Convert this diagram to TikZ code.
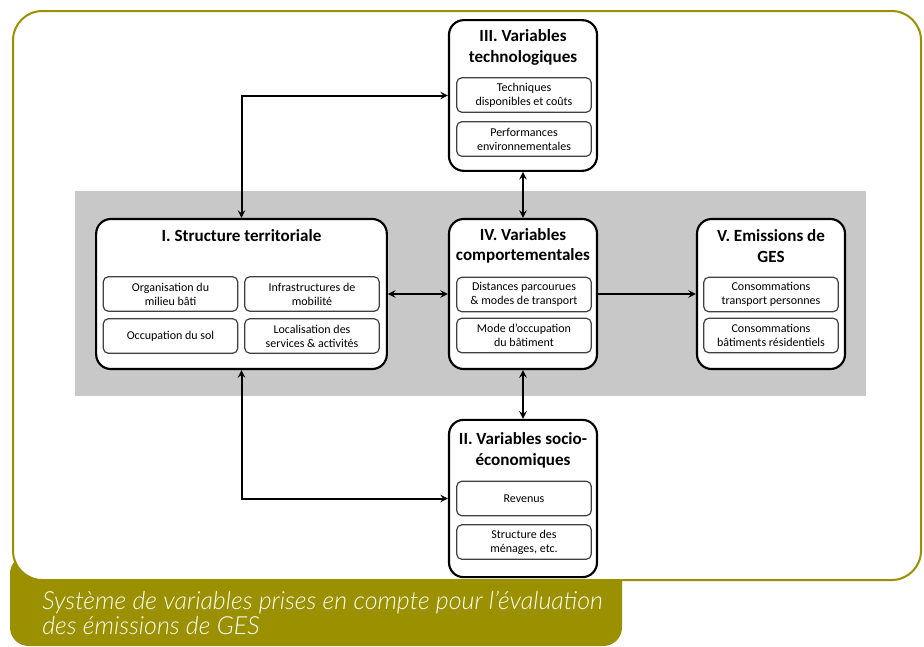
\documentclass[tikz,border=0pt]{standalone}
\usepackage{fontspec}
\setmainfont{Carlito}
\newfontfamily\capfont{Lato}[UprightFont=* Light, ItalicFont=* Light Italic]
\usetikzlibrary{positioning}
\definecolor{framecol}{RGB}{155,145,0}
\definecolor{bandgray}{RGB}{200,200,200}

\begin{document}
\begin{tikzpicture}[
x=0.75pt, y=-0.75pt,
group/.style={rectangle, rounded corners=11pt, draw=black, line width=1.6pt, fill=white},
title/.style={font=\bfseries\fontsize{12.8}{15.5}\selectfont, align=center, inner sep=0pt},
item/.style={rectangle, rounded corners=4pt, draw=black!75, line width=0.9pt, fill=white, minimum width=101pt, minimum height=26pt, align=center, inner sep=1pt, font=\fontsize{9}{10.6}\selectfont},
link/.style={stealth-stealth, line width=1.5pt}]

\useasboundingbox (0,0) rectangle (924,646);

% frame and caption band
\fill[framecol, rounded corners=14pt] (10,555) rectangle (622,646);
\draw[framecol, fill=white, line width=1.5pt, rounded corners=22pt] (13,11) rectangle (921,580);
\node[anchor=north west, text=white, align=left, inner sep=0pt, font=\capfont\itshape\fontsize{18.7}{19}\selectfont] (caption) at (42,591) {Système de variables prises en compte pour l’évaluation\\des émissions de GES};

% grey band
\fill[bandgray] (75,191) rectangle (866,396);

% boxes
\node[group, minimum width=111pt, minimum height=113pt] (techno) at (523,95.5) {};
\node[group, minimum width=218pt, minimum height=112.5pt] (struct) at (241.5,294) {};
\node[group, minimum width=111pt, minimum height=112.5pt] (compo) at (523,294) {};
\node[group, minimum width=111pt, minimum height=112.5pt] (emis) at (771,294) {};
\node[group, minimum width=111pt, minimum height=118pt] (socio) at (523,498.5) {};

% titles
\node[title] (technoT) at (523,47.5) {III. Variables\\technologiques};
\node[title] (structT) at (241.5,236) {I. Structure territoriale};
\node[title] (compoT) at (523,246) {IV. Variables\\comportementales};
\node[title] (emisT) at (771,246) {V. Emissions de\\GES};
\node[title] (socioT) at (523,450.5) {II. Variables socio-\\économiques};

% items
\node[item] (tech1) at (524,95) {Techniques\\disponibles et coûts};
\node[item] (tech2) at (524,139) {Performances\\environnementales};

\node[item] (str1) at (170.5,294) {Organisation du\\milieu bâti};
\node[item] (str2) at (312,294) {Infrastructures de\\mobilité};
\node[item] (str3) at (170.5,336) {Occupation du sol};
\node[item] (str4) at (312,336) {Localisation des\\services \& activités};

\node[item] (comp1) at (524,294.5) {Distances parcourues\\\& modes de transport};
\node[item] (comp2) at (524,335.5) {Mode d’occupation\\du bâtiment};

\node[item] (emi1) at (771,294.5) {Consommations\\transport personnes};
\node[item] (emi2) at (771,335.5) {Consommations\\bâtiments résidentiels};

\node[item] (soc1) at (524,498.5) {Revenus};
\node[item] (soc2) at (524,542) {Structure des\\ménages, etc.};

% connectors
\draw[link] (struct.north) |- (techno.west);
\draw[link] (struct.south) |- (socio.west);
\draw[link] (techno.south) -- (compo.north);
\draw[link] (compo.south) -- (socio.north);
\draw[link] (struct.east) -- (compo.west);
\draw[-stealth, line width=1.5pt] (compo.east) -- (emis.west);
\end{tikzpicture}
\end{document}
